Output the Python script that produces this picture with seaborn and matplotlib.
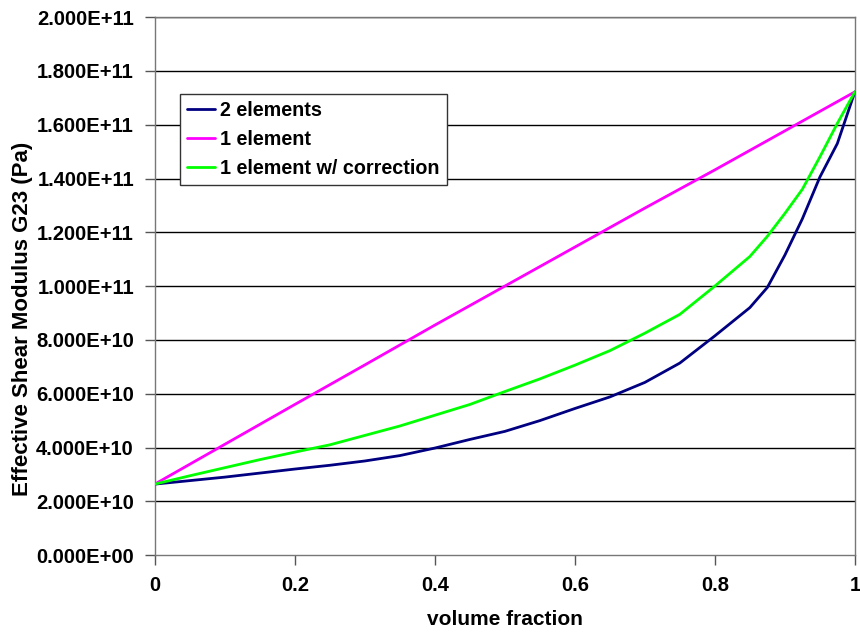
import matplotlib
matplotlib.use("Agg")
import matplotlib.pyplot as plt
from matplotlib.ticker import FuncFormatter, MultipleLocator
import seaborn as sns
import pandas as pd

# Data (values in Pa)
x_two = [0, 0.05, 0.1, 0.15, 0.2, 0.25, 0.3, 0.35, 0.4, 0.45, 0.5, 0.55, 0.6,
         0.65, 0.7, 0.75, 0.8, 0.85, 0.875, 0.9, 0.925, 0.95, 0.975, 1.0]
g_two = [2.64, 2.77, 2.90, 3.05, 3.20, 3.34, 3.50, 3.70, 3.98, 4.30, 4.60, 5.00, 5.45,
         5.88, 6.42, 7.14, 8.15, 9.20, 9.95, 11.15, 12.50, 14.05, 15.30, 17.22]

x_one = [0, 0.1, 0.2, 0.3, 0.4, 0.5, 0.6, 0.7, 0.8, 0.9, 1.0]
g_one = [2.64, 4.12, 5.60, 7.07, 8.55, 10.00, 11.45, 12.90, 14.32, 15.77, 17.22]

x_corr = [0, 0.05, 0.1, 0.15, 0.2, 0.25, 0.3, 0.35, 0.4, 0.45, 0.5, 0.55, 0.6,
          0.65, 0.7, 0.75, 0.8, 0.85, 0.875, 0.9, 0.925, 0.95, 0.975, 1.0]
g_corr = [2.64, 2.95, 3.25, 3.55, 3.83, 4.10, 4.45, 4.80, 5.20, 5.60, 6.08, 6.55, 7.06,
          7.60, 8.25, 8.95, 10.00, 11.10, 11.85, 12.70, 13.60, 14.80, 16.05, 17.22]

series_names = ["2 elements", "1 element", "1 element w/ correction"]
series_colors = ["#000080", "#FF00FF", "#00FF00"]
scale = 1e10

frames = []
for name, xs, ys in zip(series_names, [x_two, x_one, x_corr], [g_two, g_one, g_corr]):
    frames.append(pd.DataFrame({"x": xs, "y": [v * scale for v in ys], "series": name}))
df = pd.concat(frames, ignore_index=True)

sns.set_theme(style="white")
plt.rcParams["font.family"] = ["Liberation Sans", "DejaVu Sans"]
plt.rcParams["text.color"] = "black"
plt.rcParams["axes.labelcolor"] = "black"
plt.rcParams["xtick.color"] = "black"
plt.rcParams["ytick.color"] = "black"

fig = plt.figure(figsize=(8.6, 6.33), dpi=100)
ax = fig.add_axes([0.180, 0.123, 0.814, 0.850])

for y in range(1, 11):
    ax.axhline(y * 2e10, color="black", lw=1.0, zorder=1)

sns.lineplot(data=df, x="x", y="y", hue="series", hue_order=series_names,
             palette=series_colors, linewidth=2.0, ax=ax, sort=False,
             estimator=None, zorder=3)

ax.set_xlim(0, 1)
ax.set_ylim(0, 2e11)
ax.xaxis.set_major_locator(MultipleLocator(0.2))
ax.yaxis.set_major_locator(MultipleLocator(2e10))
ax.yaxis.set_major_formatter(FuncFormatter(lambda v, p: f"{v:.3E}"))
ax.xaxis.set_major_formatter(FuncFormatter(lambda v, p: f"{v:g}"))

ax.tick_params(axis="y", which="major", direction="out", length=7, width=1,
               color="#555555", labelcolor="black", labelsize=14.5, pad=8, left=True)
ax.tick_params(axis="x", which="major", direction="out", length=7, width=1,
               color="#555555", labelcolor="black", labelsize=14.5, pad=8, bottom=True)
for lab in ax.get_yticklabels() + ax.get_xticklabels():
    lab.set_fontweight("bold")

for s in ax.spines.values():
    s.set_color("#777777")
    s.set_linewidth(1.0)

ax.set_xlabel("volume fraction", fontsize=15, fontweight="bold", labelpad=11)
ax.set_ylabel("Effective Shear Modulus G23 (Pa)", fontsize=16, fontweight="bold")
ax.yaxis.set_label_coords(-0.174, 0.439)

leg = ax.legend(loc="upper left", bbox_to_anchor=(0.036, 0.857), frameon=True,
                fancybox=False, edgecolor="#333333", framealpha=1,
                prop={"weight": "bold", "size": 14.2}, handlelength=1.4,
                handletextpad=0.3, borderpad=0.35, borderaxespad=0.0,
                labelspacing=0.5)
leg.get_frame().set_linewidth(1.0)

fig.savefig("out.png", dpi=100)
